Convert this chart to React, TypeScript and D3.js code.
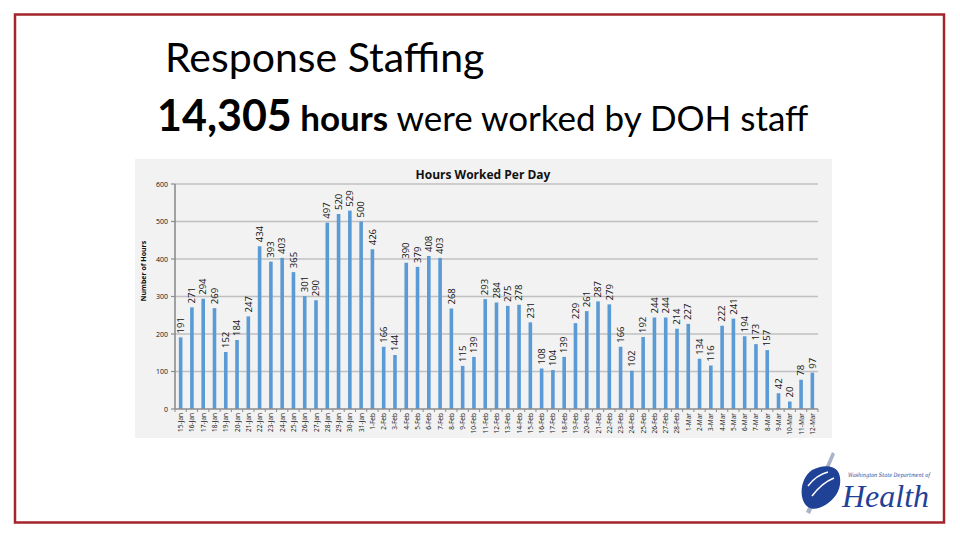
import React from "react";
import * as d3 from "d3";

const dates: string[] = [
  "15-Jan","16-Jan","17-Jan","18-Jan","19-Jan","20-Jan","21-Jan","22-Jan","23-Jan","24-Jan","25-Jan","26-Jan","27-Jan","28-Jan","29-Jan","30-Jan","31-Jan",
  "1-Feb","2-Feb","3-Feb","4-Feb","5-Feb","6-Feb","7-Feb","8-Feb","9-Feb","10-Feb","11-Feb","12-Feb","13-Feb","14-Feb","15-Feb","16-Feb","17-Feb","18-Feb","19-Feb","20-Feb","21-Feb","22-Feb","23-Feb","24-Feb","25-Feb","26-Feb","27-Feb","28-Feb",
  "1-Mar","2-Mar","3-Mar","4-Mar","5-Mar","6-Mar","7-Mar","8-Mar","9-Mar","10-Mar","11-Mar","12-Mar",
];

const hours: number[] = [
  191,271,294,269,152,184,247,434,393,403,365,301,290,497,520,529,500,
  426,166,144,390,379,408,403,268,115,139,293,284,275,278,231,108,104,139,229,261,287,279,166,102,192,244,244,214,
  227,134,116,222,241,194,173,157,42,20,78,97,
];

const yTicks: number[] = [0, 100, 200, 300, 400, 500, 600];

const W = 960;
const H = 540;

export default function App() {
  const x = d3.scaleBand<string>().domain(dates).range([175, 818]).paddingInner(0.68).paddingOuter(0.34);
  const y = d3.scaleLinear().domain([0, 600]).range([409, 184]);
  const step = x.step();
  const font = "Lato, 'Open Sans', sans-serif";
  const chartFont = "'Open Sans', 'DejaVu Sans', sans-serif";

  return (
    <svg width={W} height={H} style={{ position: "absolute", left: 0, top: 0, background: "#fff" }}>
      <rect x={0} y={0} width={W} height={H} fill="#fff" />
      <rect x={15} y={14.5} width={929} height={508} fill="none" stroke="#a3242a" strokeWidth={2.5} />

      <text x={165} y={72} fontFamily={font} fontSize={41} fill="#000">Response Staffing</text>
      <text x={157} y={131} fontFamily={font} fill="#000">
        <tspan fontSize={43} fontWeight={700}>14,305</tspan>
        <tspan fontSize={35} fontWeight={700}> hours</tspan>
        <tspan fontSize={35}> were worked by DOH staff</tspan>
      </text>

      {/* chart area */}
      <rect x={135} y={159} width={697} height={279} fill="#f2f2f2" />
      <text x={483} y={179} textAnchor="middle" fontFamily={chartFont} fontWeight={700} fontSize={12} fill="#111">Hours Worked Per Day</text>

      {yTicks.filter((t) => t > 0).map((t) => (
        <line key={"g" + t} x1={175} x2={818} y1={y(t)} y2={y(t)} stroke="#c0c0c0" strokeWidth={1.6} />
      ))}
      {yTicks.map((t) => (
        <g key={"yt" + t}>
          <line x1={171} x2={175} y1={y(t)} y2={y(t)} stroke="#8c8c8c" strokeWidth={1.2} />
          <text x={168} y={y(t) + 2.5} textAnchor="end" fontFamily={chartFont} fontSize={7} fill="#111">{t}</text>
        </g>
      ))}
      <text transform={`translate(146,271) rotate(-90)`} textAnchor="middle" fontFamily={chartFont} fontWeight={700} fontSize={7} fill="#111">Number of Hours</text>

      {dates.map((d, i) => {
        const v = hours[i];
        const bx = x(d) as number;
        const cx = bx + x.bandwidth() / 2;
        return (
          <g key={d}>
            <rect x={bx} y={y(v)} width={x.bandwidth()} height={409 - y(v)} fill="#5b9bd5" />
            <text transform={`translate(${cx + 3.2},${y(v) - 4}) rotate(-90)`} fontFamily={chartFont} fontSize={9.5} fill="#111">{v}</text>
            <text transform={`translate(${cx + 2.5},${413}) rotate(-90)`} textAnchor="end" fontFamily={chartFont} fontSize={6.5} fill="#111">{d}</text>
          </g>
        );
      })}
      {dates.map((d, i) => {
        const tx = (x(d) as number) - (step - x.bandwidth()) / 2;
        return <line key={"xt" + i} x1={tx} x2={tx} y1={409} y2={412} stroke="#8c8c8c" strokeWidth={1} />;
      })}
      <line x1={818} x2={818} y1={409} y2={412} stroke="#8c8c8c" strokeWidth={1} />
      <line x1={175} x2={818} y1={409} y2={409} stroke="#8c8c8c" strokeWidth={1.6} />
      <line x1={175} x2={175} y1={184} y2={409} stroke="#8c8c8c" strokeWidth={1.6} />

      {/* logo */}
      <g>
        <path d="M806,512 L832,452 L835,454 L810,514 Z" fill="#a9b3c9" />
        <path d="M812,470 C800,478 798,500 808,507 C815,512 828,506 836,495 C842,486 842,472 834,468 C828,465 820,466 812,470 Z" fill="#1f4196" />
        <path d="M812,496 C818,488 824,482 834,478" stroke="#fff" strokeWidth={1.5} fill="none" />
        <path d="M808,486 C814,478 820,474 828,472" stroke="#fff" strokeWidth={1.5} fill="none" />
        <text x={848} y={477} fontFamily="'DejaVu Serif', serif" fontStyle="italic" fontSize={6} textLength={82} lengthAdjust="spacingAndGlyphs" fill="#2a4a9a">Washington State Department of</text>
        <text x={842} y={507} fontFamily="'Liberation Serif', serif" fontStyle="italic" fontSize={32} fill="#1f4196">Health</text>
      </g>
    </svg>
  );
}
